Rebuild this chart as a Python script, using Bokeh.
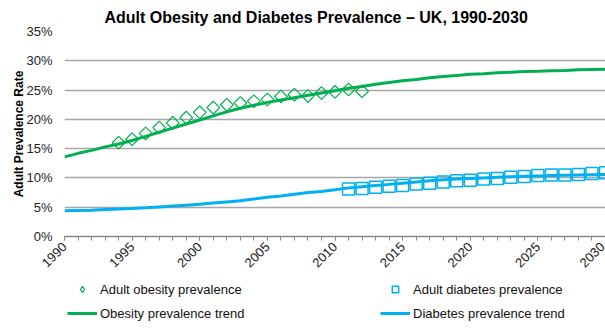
import math
from bokeh.plotting import figure
from bokeh.layouts import column
from bokeh.models import (ColumnDataSource, Legend, LegendItem, NumeralTickFormatter,
                          FixedTicker, Range1d)
from bokeh.embed import file_html
from bokeh.resources import INLINE

# Observed adult obesity prevalence (%), survey years
obesity_years = list(range(1994, 2013))
obesity_obs = [16.0, 16.6, 17.6, 18.6, 19.4, 20.3, 21.2, 22.0, 22.5, 22.8,
               23.1, 23.4, 23.9, 24.2, 24.0, 24.5, 24.7, 25.1, 24.8]

# Projected adult diabetes prevalence (%)
diabetes_years = list(range(2011, 2031))
diabetes_obs = [8.1, 8.2, 8.4, 8.6, 8.7, 8.95, 9.1, 9.3, 9.5, 9.6,
                9.8, 9.9, 10.1, 10.25, 10.4, 10.5, 10.5, 10.6, 10.75, 10.9]

# Fitted trend lines (%), 1990-2030
trend_years = list(range(1990, 2031))
obesity_trend = [13.6, 14.2, 14.7, 15.3, 15.8, 16.4, 17.1, 17.8, 18.5, 19.2,
                 19.9, 20.6, 21.3, 21.9, 22.4, 22.9, 23.3, 23.7, 24.1, 24.5,
                 24.9, 25.3, 25.6, 26.0, 26.3, 26.6, 26.8, 27.1, 27.3, 27.5,
                 27.7, 27.8, 27.95, 28.05, 28.15, 28.2, 28.3, 28.35, 28.45, 28.5,
                 28.55]
diabetes_trend = [4.4, 4.45, 4.5, 4.6, 4.7, 4.8, 4.9, 5.05, 5.2, 5.35,
                  5.5, 5.7, 5.9, 6.1, 6.4, 6.7, 6.9, 7.2, 7.5, 7.7,
                  8.0, 8.3, 8.5, 8.7, 8.9, 9.1, 9.3, 9.5, 9.7, 9.8,
                  9.9, 10.0, 10.1, 10.2, 10.3, 10.35, 10.4, 10.45, 10.5, 10.55,
                  10.6]

y_ticks = [0, 5, 10, 15, 20, 25, 30, 35]
x_ticks = [1990, 1995, 2000, 2005, 2010, 2015, 2020, 2025, 2030]

GREEN = "#00B050"
BLUE = "#00B0F0"
FONT = "Liberation Sans"

def frac(vals):
    return [v / 100.0 for v in vals]

p = figure(width=605, height=278, output_backend="svg", toolbar_location=None,
           x_range=Range1d(1990, 2030), y_range=Range1d(0, 0.35),
           min_border_left=64, min_border_right=0, min_border_top=30,
           min_border_bottom=42)
p.outline_line_color = None
p.background_fill_color = "white"
p.border_fill_color = "white"

# Title
p.title.text = "Adult Obesity and Diabetes Prevalence \u2013 UK, 1990-2030"
p.title.text_font = FONT
p.title.text_font_size = "16px"
p.title.text_font_style = "bold"
p.title.text_color = "#000000"
p.title.align = "left"
p.title.offset = 40
p.title.standoff = 12

# Y axis
p.yaxis.ticker = FixedTicker(ticks=[t / 100.0 for t in y_ticks])
p.yaxis.formatter = NumeralTickFormatter(format="0%")
p.yaxis.axis_line_color = None
p.yaxis.major_tick_line_color = None
p.yaxis.minor_tick_line_color = None
p.yaxis.major_tick_out = 0
p.yaxis.major_tick_in = 0
p.yaxis.minor_tick_out = 0
p.yaxis.major_label_text_font = FONT
p.yaxis.major_label_text_font_size = "13px"
p.yaxis.major_label_text_color = "#222222"
p.yaxis.major_label_standoff = 12
p.yaxis.axis_label = "Adult Prevalence Rate"
p.yaxis.axis_label_text_font = FONT
p.yaxis.axis_label_text_font_size = "12px"
p.yaxis.axis_label_text_font_style = "bold"
p.yaxis.axis_label_text_color = "#000000"
p.yaxis.axis_label_standoff = -3

# X axis
p.xaxis.ticker = FixedTicker(ticks=x_ticks, minor_ticks=list(range(1990, 2031)))
p.xaxis.axis_line_color = "#898989"
p.xaxis.axis_line_width = 1.3
p.xaxis.major_tick_line_color = "#898989"
p.xaxis.minor_tick_line_color = "#898989"
p.xaxis.major_tick_in = 0
p.xaxis.major_tick_out = 4
p.xaxis.minor_tick_in = 0
p.xaxis.minor_tick_out = 4
p.xaxis.major_label_orientation = math.pi / 4
p.xaxis.major_label_text_font = FONT
p.xaxis.major_label_text_font_size = "13px"
p.xaxis.major_label_text_color = "#222222"
p.xaxis.major_label_standoff = 4

# Grid
p.xgrid.grid_line_color = None
p.ygrid.grid_line_color = "#a6a6a6"
p.ygrid.grid_line_width = 1.5

trend_src = ColumnDataSource(dict(year=trend_years, ob=frac(obesity_trend),
                                  db=frac(diabetes_trend)))
ob_src = ColumnDataSource(dict(year=obesity_years, val=frac(obesity_obs)))
db_src = ColumnDataSource(dict(year=diabetes_years, val=frac(diabetes_obs)))

p.line("year", "ob", source=trend_src, line_color=GREEN, line_width=3)
p.line("year", "db", source=trend_src, line_color=BLUE, line_width=3)
p.scatter("year", "val", source=ob_src, marker="square", angle=math.pi / 4,
          size=9, fill_color=None, line_color=GREEN, line_width=1.2)
p.scatter("year", "val", source=db_src, marker="square", size=12,
          fill_color=None, line_color=BLUE, line_width=1.5)

# Legend strip underneath the chart; its keys reuse the series sources but the
# strip's ranges keep those marks out of view, so only the legend shows.
lg = figure(width=605, height=50, output_backend="svg", toolbar_location=None,
            x_range=Range1d(0, 1), y_range=Range1d(0, 1),
            x_axis_location=None, y_axis_location=None,
            min_border=0, min_border_left=0, min_border_right=0,
            min_border_top=0, min_border_bottom=0)
lg.grid.visible = False
lg.outline_line_color = None
lg.border_fill_color = "white"
lg.background_fill_color = "white"

k_ob_pts = lg.scatter("year", "val", source=ob_src, marker="diamond",
                      size=10, fill_color=None, line_color=GREEN, line_width=1.2)
k_ob_line = lg.line("year", "ob", source=trend_src, line_color=GREEN, line_width=3)
k_db_pts = lg.scatter("year", "val", source=db_src, marker="square",
                      size=8, fill_color=None, line_color=BLUE, line_width=1.5)
k_db_line = lg.line("year", "db", source=trend_src, line_color=BLUE, line_width=3)

def make_legend(items, loc):
    return Legend(items=items, location=loc, orientation="vertical",
                  label_text_font=FONT, label_text_font_size="13px",
                  label_text_color="#111111", glyph_width=30, glyph_height=16,
                  label_height=16, spacing=8, padding=0, margin=0,
                  label_standoff=3, border_line_color=None,
                  background_fill_alpha=0)

lg.add_layout(make_legend([LegendItem(label="Adult obesity prevalence", renderers=[k_ob_pts]),
                           LegendItem(label="Obesity prevalence trend", renderers=[k_ob_line])],
                          (3, 7)), "center")
lg.add_layout(make_legend([LegendItem(label="Adult diabetes prevalence", renderers=[k_db_pts]),
                           LegendItem(label="Diabetes prevalence trend", renderers=[k_db_line])],
                          (316, 7)), "center")

layout = column(p, lg, spacing=0)
open("out.html", "w").write(file_html(layout, INLINE))
